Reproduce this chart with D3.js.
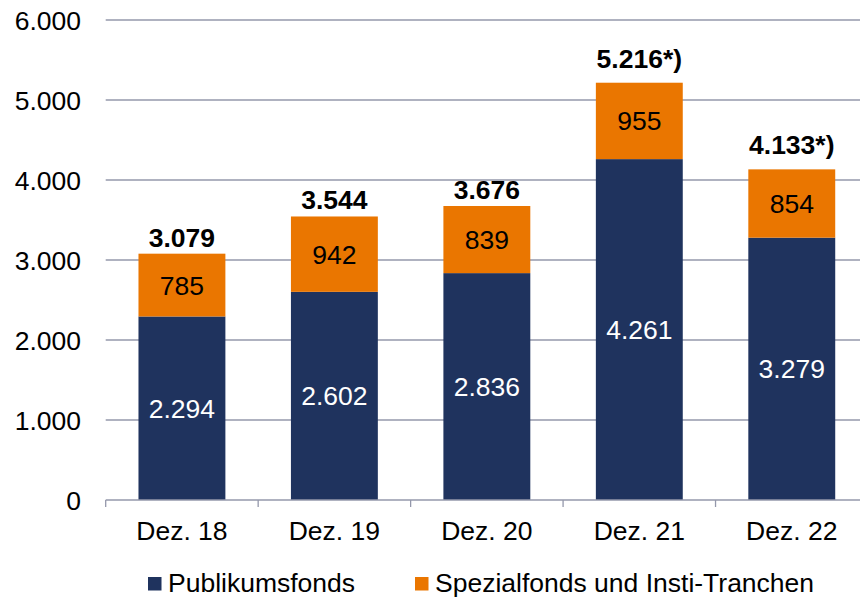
<!DOCTYPE html>
<html>
<head>
<meta charset="utf-8">
<script src="https://cdn.jsdelivr.net/npm/d3@7"></script>
<style>
  body { margin: 0; background: #fff; }
  svg text { font-family: "Liberation Sans", Arial, sans-serif; }
</style>
</head>
<body>
<div id="chart"></div>
<script>
var categories = ["Dez. 18", "Dez. 19", "Dez. 20", "Dez. 21", "Dez. 22"];
var publikum = [2294, 2602, 2836, 4261, 3279];
var spezial = [785, 942, 839, 955, 854];
var totalLabels = ["3.079", "3.544", "3.676", "5.216*)", "4.133*)"];
var yTicks = [0, 1000, 2000, 3000, 4000, 5000, 6000];
var seriesNames = ["Publikumsfonds", "Spezialfonds und Insti-Tranchen"];
var colors = ["#1f335e", "#ea7600"];

var width = 860, height = 597;
var fs = "26.5px";
var fmt = function(v){ return d3.format(",")(v).replace(/,/g, "."); };

var svg = d3.select("#chart").append("svg")
  .attr("width", width)
  .attr("height", height);

var x = d3.scaleBand()
  .domain(categories)
  .range([105.7, 868])
  .paddingInner(0.43)
  .paddingOuter(0.215);

var y = d3.scaleLinear()
  .domain([0, 6000])
  .range([500, 20]);

// gridlines
svg.selectAll("line.grid")
  .data(yTicks.slice(1))
  .enter()
  .append("line")
  .attr("class", "grid")
  .attr("x1", 105.7)
  .attr("x2", width)
  .attr("y1", function(d){ return y(d); })
  .attr("y2", function(d){ return y(d); })
  .attr("stroke", "#9498ab")
  .attr("stroke-width", 1.3);

// y labels
svg.selectAll("text.ylab")
  .data(yTicks)
  .enter()
  .append("text")
  .attr("class", "ylab")
  .attr("x", 81)
  .attr("y", function(d){ return y(d) + 9.5; })
  .attr("text-anchor", "end")
  .attr("font-size", fs)
  .attr("fill", "#000")
  .text(function(d){ return fmt(d); });

// stacked data
var rows = categories.map(function(c, i){
  return { cat: c, a: publikum[i], b: spezial[i], total: totalLabels[i] };
});

// bars - Publikumsfonds
svg.selectAll("rect.pub")
  .data(rows)
  .enter()
  .append("rect")
  .attr("class", "pub")
  .attr("x", function(d){ return x(d.cat); })
  .attr("width", x.bandwidth())
  .attr("y", function(d){ return y(d.a); })
  .attr("height", function(d){ return y(0) - y(d.a); })
  .attr("fill", colors[0]);

// bars - Spezialfonds
svg.selectAll("rect.spez")
  .data(rows)
  .enter()
  .append("rect")
  .attr("class", "spez")
  .attr("x", function(d){ return x(d.cat); })
  .attr("width", x.bandwidth())
  .attr("y", function(d){ return y(d.a + d.b); })
  .attr("height", function(d){ return y(d.a) - y(d.a + d.b); })
  .attr("fill", colors[1]);

// x axis line + ticks
svg.append("line")
  .attr("x1", 105.7).attr("x2", width)
  .attr("y1", 500).attr("y2", 500)
  .attr("stroke", "#9498ab").attr("stroke-width", 1.3);

var step = x.step();
svg.selectAll("line.xtick")
  .data(d3.range(categories.length + 1))
  .enter()
  .append("line")
  .attr("class", "xtick")
  .attr("x1", function(i){ return 105.7 + i * step; })
  .attr("x2", function(i){ return 105.7 + i * step; })
  .attr("y1", 500)
  .attr("y2", 507)
  .attr("stroke", "#9498ab")
  .attr("stroke-width", 1.3);

// category labels
svg.selectAll("text.xlab")
  .data(categories)
  .enter()
  .append("text")
  .attr("class", "xlab")
  .attr("x", function(d){ return x(d) + x.bandwidth() / 2; })
  .attr("y", 540)
  .attr("text-anchor", "middle")
  .attr("font-size", fs)
  .text(function(d){ return d; });

// segment labels
svg.selectAll("text.publab")
  .data(rows)
  .enter()
  .append("text")
  .attr("class", "publab")
  .attr("x", function(d){ return x(d.cat) + x.bandwidth() / 2; })
  .attr("y", function(d){ return (y(0) + y(d.a)) / 2 + 9.5; })
  .attr("text-anchor", "middle")
  .attr("font-size", fs)
  .attr("fill", "#fff")
  .text(function(d){ return fmt(d.a); });

svg.selectAll("text.spezlab")
  .data(rows)
  .enter()
  .append("text")
  .attr("class", "spezlab")
  .attr("x", function(d){ return x(d.cat) + x.bandwidth() / 2; })
  .attr("y", function(d){ return (y(d.a) + y(d.a + d.b)) / 2 + 9.5; })
  .attr("text-anchor", "middle")
  .attr("font-size", fs)
  .attr("fill", "#000")
  .text(function(d){ return fmt(d.b); });

// totals
svg.selectAll("text.total")
  .data(rows)
  .enter()
  .append("text")
  .attr("class", "total")
  .attr("x", function(d){ return x(d.cat) + x.bandwidth() / 2; })
  .attr("y", function(d){
    var gap = d.total.indexOf("*") >= 0 ? 15 : 7;
    return y(d.a + d.b) - gap;
  })
  .attr("text-anchor", "middle")
  .attr("font-size", fs)
  .attr("font-weight", "bold")
  .attr("fill", "#000")
  .text(function(d){ return d.total; });

// legend
var legendX = [148, 415];
var leg = svg.selectAll("g.legend")
  .data(seriesNames)
  .enter()
  .append("g")
  .attr("class", "legend")
  .attr("transform", function(d, i){ return "translate(" + legendX[i] + ",0)"; });

leg.append("rect")
  .attr("x", 0).attr("y", 577)
  .attr("width", 13.5).attr("height", 13.5)
  .attr("fill", function(d, i){ return colors[i]; });

leg.append("text")
  .attr("x", 20)
  .attr("y", 592)
  .attr("font-size", fs)
  .attr("fill", "#000")
  .text(function(d){ return d; });
</script>
</body>
</html>
